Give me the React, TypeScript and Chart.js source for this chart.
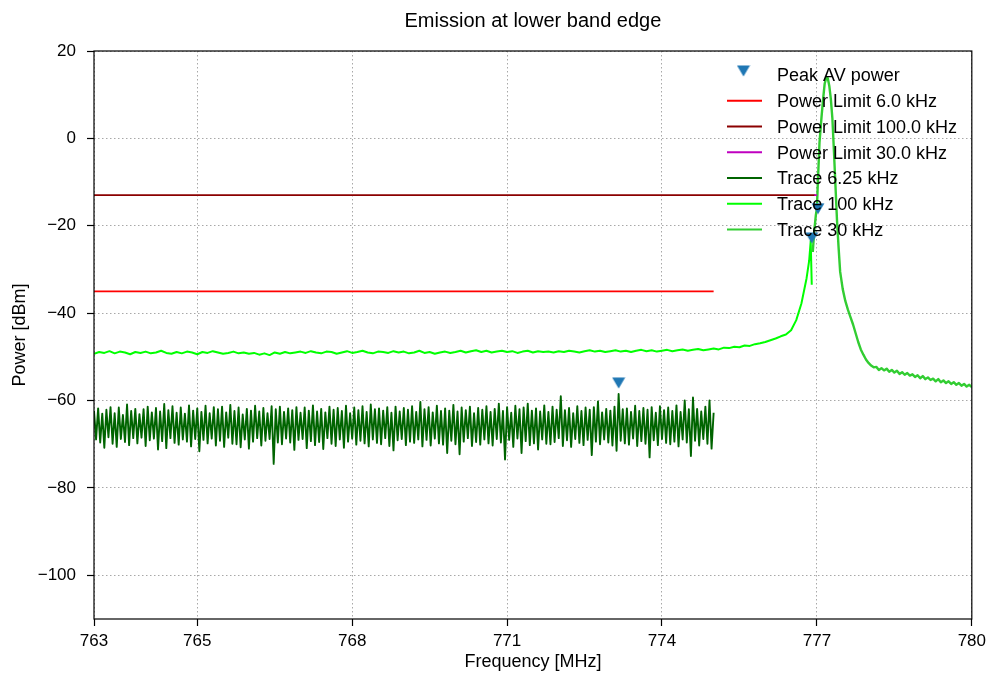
import { useEffect, useRef } from 'react';
import { Chart, registerables } from 'chart.js';

Chart.register(...registerables);

// ---------- axis ticks ----------
const xTicks = [763, 765, 768, 771, 774, 777, 780];
const yTicks = [-100, -80, -60, -40, -20, 0, 20];

// ---------- Trace 6.25 kHz (sweep grid 763.00 .. 775.00, step 0.04 MHz) ----------
const trace625Start = 763;
const trace625Step = 0.04;
const trace625Power = [
  -62.4, -68.9, -61.8, -69.6, -63.0, -70.8, -62.1, -68.4, -61.5, -69.9,
  -62.9, -70.6, -61.6, -68.8, -63.3, -69.5, -60.9, -70.2, -62.4, -68.6,
  -61.9, -69.8, -63.1, -68.5, -62.0, -70.4, -61.4, -69.1, -62.7, -68.7,
  -61.7, -71.2, -62.5, -69.3, -60.8, -70.9, -62.2, -68.6, -61.3, -69.7,
  -62.8, -70.1, -61.6, -68.9, -63.0, -69.4, -61.1, -70.5, -62.3, -68.8,
  -61.8, -71.6, -62.6, -69.0, -61.2, -69.8, -62.9, -68.7, -61.5, -70.3,
  -62.0, -69.2, -61.4, -70.6, -62.7, -68.5, -61.0, -69.9, -62.4, -70.0,
  -61.6, -70.7, -63.2, -68.9, -61.9, -71.0, -62.3, -69.4, -61.2, -68.6,
  -62.5, -70.3, -61.7, -69.2, -62.9, -68.8, -61.3, -74.5, -62.0, -69.6,
  -61.4, -70.0, -62.6, -68.7, -61.8, -69.6, -62.2, -71.3, -61.5, -69.0,
  -62.8, -68.8, -61.6, -70.9, -62.3, -69.3, -61.1, -70.2, -62.5, -69.5,
  -61.9, -71.1, -62.7, -68.6, -61.4, -69.9, -62.1, -70.4, -61.7, -68.9,
  -62.4, -70.8, -61.2, -69.4, -62.9, -68.7, -61.6, -70.1, -62.2, -69.2,
  -61.3, -69.8, -62.6, -70.5, -60.9, -68.9, -62.0, -69.7, -61.8, -70.0,
  -62.3, -68.6, -61.5, -70.4, -62.8, -71.4, -61.4, -69.1, -62.5, -68.8,
  -61.7, -70.2, -62.1, -69.4, -61.3, -69.7, -62.6, -68.9, -60.3, -70.5,
  -62.0, -69.0, -61.5, -70.3, -62.7, -68.7, -61.2, -69.8, -62.4, -70.1,
  -61.8, -72.0, -62.3, -69.2, -61.0, -70.0, -62.5, -72.3, -61.6, -69.4,
  -62.2, -68.6, -61.4, -70.4, -62.9, -69.5, -61.7, -70.1, -62.1, -68.9,
  -61.3, -69.8, -62.6, -70.3, -61.9, -68.8, -60.7, -69.6, -62.4, -73.5,
  -61.5, -69.0, -62.8, -70.6, -61.2, -68.7, -62.0, -72.0, -61.6, -69.3,
  -60.7, -70.2, -62.3, -69.8, -61.8, -71.2, -62.5, -68.9, -61.1, -69.9,
  -62.6, -70.0, -61.4, -69.5, -62.1, -68.6, -59.0, -70.4, -62.2, -69.1,
  -61.7, -70.6, -62.9, -68.8, -61.3, -69.7, -62.4, -70.2, -61.6, -69.0,
  -62.1, -72.5, -61.5, -69.4, -60.2, -70.0, -62.7, -68.9, -61.9, -69.6,
  -62.3, -70.3, -61.4, -71.5, -58.5, -69.2, -62.0, -69.8, -61.8, -70.1,
  -62.6, -68.7, -61.2, -70.4, -62.4, -69.3, -61.7, -69.9, -62.1, -73.0,
  -61.5, -69.1, -62.8, -70.2, -61.3, -68.8, -62.2, -69.7, -61.6, -70.0,
  -62.4, -69.4, -61.1, -70.5, -62.6, -68.9, -60.0, -69.6, -62.0, -72.7,
  -59.3, -69.2, -61.9, -70.3, -62.5, -68.8, -61.4, -69.9, -60.0, -71.0,
  -62.8,
];

// ---------- Trace 100 kHz (sweep grid 763.0 .. 776.8, step 0.1 MHz) + tail ----------
const trace100Start = 763;
const trace100Step = 0.1;
const trace100Power = [
  -49.3, -48.9, -49.1, -48.7, -49.2, -48.8, -49.0, -49.4, -48.9, -49.1,
  -48.8, -49.2, -49.0, -48.6, -49.1, -49.3, -48.9, -49.2, -48.8, -49.0,
  -49.4, -48.9, -49.1, -48.7, -49.0, -49.3, -49.1, -48.8, -49.2, -49.0,
  -49.3, -49.1, -49.5, -49.2, -49.6, -49.0, -49.3, -48.9, -49.2, -49.0,
  -48.8, -49.1, -48.7, -49.0, -49.2, -48.8, -48.9, -49.3, -49.0, -48.7,
  -49.1, -48.9, -48.6, -49.0, -49.2, -48.8, -48.9, -49.1, -48.7, -49.0,
  -48.8, -49.2, -49.0, -48.6, -49.1, -48.9, -49.3, -49.0, -48.8, -49.1,
  -48.9, -48.6, -49.0, -48.7, -48.5, -48.9, -48.6, -49.0, -48.8, -48.6,
  -48.9, -48.7, -49.1, -48.8, -48.6, -49.0, -48.7, -48.9, -48.8, -49.0,
  -48.7, -48.9, -48.6, -48.8, -49.0, -48.7, -48.5, -48.8, -48.6, -48.9,
  -48.7, -48.5, -48.8, -48.6, -48.9, -48.6, -48.4, -48.7, -48.5, -48.8,
  -48.6, -48.4, -48.7, -48.5, -48.3, -48.6, -48.4, -48.2, -48.5, -48.3,
  -48.1, -48.3, -47.9, -48.0, -47.7, -47.8, -47.4, -47.5, -47.1, -46.9,
  -46.6, -46.2, -45.8, -45.3, -44.9, -43.9, -41.6, -37.8, -32.0,
];
const trace100TailFreq = [776.85, 776.88, 776.9];
const trace100TailPower = [-28.0, -23.5, -33.5];

// ---------- Trace 30 kHz ----------
const trace30Freq = [
  776.92, 776.95, 776.98, 777.0, 777.02, 777.05, 777.09, 777.12, 777.15, 777.18,
  777.21, 777.24, 777.27, 777.3, 777.33, 777.36, 777.39, 777.42, 777.45, 777.5,
  777.55, 777.6, 777.65, 777.7, 777.75, 777.8, 777.85, 777.9, 777.95, 778.0,
  778.05, 778.1, 778.15, 778.2, 778.25, 778.3, 778.35, 778.4, 778.45, 778.5,
  778.55, 778.6, 778.65, 778.7, 778.75, 778.8, 778.85, 778.9, 778.95, 779.0,
  779.05, 779.1, 779.15, 779.2, 779.25, 779.3, 779.35, 779.4, 779.45, 779.5,
  779.55, 779.6, 779.65, 779.7, 779.75, 779.8, 779.85, 779.9, 779.95, 780.0,
];
const trace30Power = [
  -26.0, -21.0, -17.5, -16.0, -9.5, -1.0, 5.0, 9.0, 12.5, 13.8,
  13.8, 12.0, 9.0, 4.5, -3.0, -11.0, -19.0, -25.0, -30.5, -34.5,
  -37.2, -39.2, -40.9, -42.6, -44.6, -46.6, -48.3, -49.5, -50.6, -51.4,
  -52.0, -52.4, -52.3, -53.0, -52.6, -53.1, -52.7, -53.4, -53.0, -53.6,
  -53.2, -53.9, -53.5, -54.1, -53.7, -54.3, -54.0, -54.6, -54.2, -54.9,
  -54.4, -55.1, -54.7, -55.3, -55.0, -55.6, -55.1, -55.8, -55.4, -56.0,
  -55.6, -56.2, -55.8, -56.4, -56.0, -56.6, -56.2, -56.8, -56.4, -56.9,
];

// ---------- Peak markers ----------
const peakFreq = [773.16, 776.9, 777.02];
const peakPower = [-56.0, -22.8, -16.1];

// ---------- Limit lines ----------
const limit6Freq = [763, 775];
const limit6Power = [-35, -35];
const limit100Freq = [763, 776.97];
const limit100Power = [-13, -13];
const limit30Freq = [776.95, 777.0];
const limit30Power = [-13, -13];

// ---------- Legend ----------
const legendLabels = [
  'Peak AV power',
  'Power Limit 6.0 kHz',
  'Power Limit 100.0 kHz',
  'Power Limit 30.0 kHz',
  'Trace 6.25 kHz',
  'Trace 100 kHz',
  'Trace 30 kHz',
];
const legendColors = ['#1f77b4', '#ff0000', '#8b0000', '#bf00bf', '#006400', '#00ff00', '#32cd32'];

const FONT = "'Liberation Sans', Arial, Helvetica, sans-serif";

const gridPts = (start: number, step: number, ys: number[]) =>
  ys.map((y, i) => ({ x: Math.round((start + i * step) * 1000) / 1000, y }));
const pairPts = (xs: number[], ys: number[]) => xs.map((x, i) => ({ x, y: ys[i] }));

function makeTriangle(color: string) {
  const c = document.createElement('canvas');
  c.width = 14;
  c.height = 12;
  const g = c.getContext('2d')!;
  g.fillStyle = color;
  g.beginPath();
  g.moveTo(0.5, 0.5);
  g.lineTo(13.5, 0.5);
  g.lineTo(7, 11.5);
  g.closePath();
  g.fill();
  return c;
}

export default function App() {
  const ref = useRef<HTMLCanvasElement>(null);

  useEffect(() => {
    const canvas = ref.current!;
    const tri = makeTriangle('#1f77b4');

    const decor = {
      id: 'decor',
      afterDatasetsDraw(chart: any) {
        const { ctx, chartArea: a } = chart;
        ctx.save();
        ctx.strokeStyle = '#000';
        ctx.lineWidth = 1.2;
        ctx.strokeRect(a.left, a.top, a.right - a.left, a.bottom - a.top);
        const rowY0 = 75;
        const rowStep = 25.75;
        ctx.font = `18px ${FONT}`;
        ctx.textAlign = 'left';
        ctx.textBaseline = 'alphabetic';
        legendLabels.forEach((label, i) => {
          const cy = rowY0 + i * rowStep;
          if (i === 0) {
            ctx.drawImage(tri, 743.5 - 7, cy - 10);
          } else {
            ctx.strokeStyle = legendColors[i];
            ctx.lineWidth = 2;
            ctx.beginPath();
            ctx.moveTo(727, cy);
            ctx.lineTo(762, cy);
            ctx.stroke();
          }
          ctx.fillStyle = '#000';
          ctx.fillText(label, 777, cy + 6.4);
        });
        ctx.restore();
      },
      afterDraw(chart: any) {
        const { ctx, chartArea: a } = chart;
        const cx = (a.left + a.right) / 2;
        const cy = (a.top + a.bottom) / 2;
        ctx.save();
        ctx.fillStyle = '#000';
        ctx.textAlign = 'center';
        ctx.textBaseline = 'alphabetic';
        ctx.font = `20px ${FONT}`;
        ctx.fillText('Emission at lower band edge', cx, 27);
        ctx.font = `18px ${FONT}`;
        ctx.fillText('Frequency [MHz]', cx, 667);
        ctx.translate(25, cy);
        ctx.rotate(-Math.PI / 2);
        ctx.fillText('Power [dBm]', 0, 0);
        ctx.restore();
      },
    };

    const lineDs = (label: string, data: any[], color: string, width: number) => ({
      label,
      data,
      showLine: true,
      borderColor: color,
      backgroundColor: color,
      borderWidth: width,
      pointRadius: 0,
      pointHoverRadius: 0,
      borderJoinStyle: 'round',
      borderCapStyle: 'butt',
      tension: 0,
      fill: false,
    });

    const chart = new Chart(canvas, {
      type: 'scatter',
      data: {
        datasets: [
          {
            label: 'Peak AV power',
            data: pairPts(peakFreq, peakPower),
            showLine: false,
            pointStyle: tri as any,
            pointRadius: 6,
            pointHoverRadius: 6,
            backgroundColor: '#1f77b4',
            borderColor: '#1f77b4',
          },
          lineDs('Power Limit 30.0 kHz', pairPts(limit30Freq, limit30Power), '#bf00bf', 1.8),
          lineDs('Power Limit 100.0 kHz', pairPts(limit100Freq, limit100Power), '#8b0000', 1.8),
          lineDs('Power Limit 6.0 kHz', pairPts(limit6Freq, limit6Power), '#ff0000', 1.8),
          lineDs('Trace 30 kHz', pairPts(trace30Freq, trace30Power), '#32cd32', 2.4),
          lineDs(
            'Trace 100 kHz',
            gridPts(trace100Start, trace100Step, trace100Power).concat(pairPts(trace100TailFreq, trace100TailPower)),
            '#00ff00',
            2
          ),
          lineDs('Trace 6.25 kHz', gridPts(trace625Start, trace625Step, trace625Power), '#006400', 1.9),
        ] as any,
      },
      options: {
        animation: false,
        responsive: false,
        devicePixelRatio: 1,
        events: [],
        layout: { padding: { left: 0, top: 51, right: 18, bottom: 0 } },
        plugins: {
          legend: { display: false },
          tooltip: { enabled: false },
          title: { display: false },
        },
        scales: {
          x: {
            type: 'linear',
            min: 763,
            max: 780,
            afterBuildTicks: (s: any) => {
              s.ticks = xTicks.map((v) => ({ value: v }));
            },
            afterFit: (s: any) => {
              s.height = 61;
            },
            ticks: {
              autoSkip: false,
              maxRotation: 0,
              padding: 5,
              color: '#000',
              font: { family: FONT, size: 17 },
              callback: (v: any) => String(v),
            },
            grid: {
              color: '#a8a8a8',
              lineWidth: 1,
              drawTicks: true,
              tickLength: 7,
              tickColor: '#000',
              tickWidth: 1.2,
              tickBorderDash: [],
            },
            border: { display: false, dash: [1.5, 2.5] },
          },
          y: {
            type: 'linear',
            min: -110,
            max: 20,
            afterBuildTicks: (s: any) => {
              s.ticks = yTicks.map((v) => ({ value: v }));
            },
            afterFit: (s: any) => {
              s.width = 94;
            },
            ticks: {
              autoSkip: false,
              padding: 11,
              color: '#000',
              font: { family: FONT, size: 17 },
              callback: (v: any) => (v < 0 ? '\u2212' + String(Math.abs(v)) : String(v)),
            },
            grid: {
              color: '#a8a8a8',
              lineWidth: 1,
              drawTicks: true,
              tickLength: 7,
              tickColor: '#000',
              tickWidth: 1.2,
              tickBorderDash: [],
            },
            border: { display: false, dash: [1.5, 2.5] },
          },
        },
      } as any,
      plugins: [decor],
    });

    return () => chart.destroy();
  }, []);

  return (
    <div style={{ position: 'fixed', left: 0, top: 0, width: 991, height: 680, background: '#fff' }}>
      <canvas ref={ref} width={991} height={680} style={{ display: 'block', width: 991, height: 680 }} />
    </div>
  );
}
